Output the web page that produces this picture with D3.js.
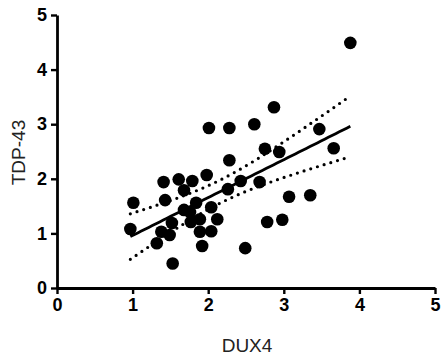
<!DOCTYPE html>
<html>
<head>
<meta charset="utf-8">
<script src="https://cdn.jsdelivr.net/npm/d3@7"></script>
<style>
  body { margin: 0; background: #fff; }
  svg { display: block; }
  text { font-family: "Liberation Sans", Arial, sans-serif; }
  .axis .domain { stroke: #000; stroke-width: 2.8px; }
  .axis .tick line { stroke: #000; stroke-width: 2.4px; }
  .axis .tick text { font-family: "Liberation Sans", Arial, sans-serif; font-size: 18px; font-weight: bold; fill: #000; }
</style>
</head>
<body>
<div id="chart"></div>
<script>
// DUX4 vs TDP-43 values
const dux4 = [3.88, 2.87, 2.01, 2.28, 2.61, 3.47, 2.75, 2.94, 3.66, 2.28,
              1.98, 1.61, 1.41, 1.79, 2.43, 2.68, 1.68, 2.26, 3.07, 3.35,
              1.01, 1.43, 1.84, 2.04, 1.68, 1.76, 2.78, 2.98, 1.52, 1.77,
              1.89, 2.12, 0.97, 1.38, 1.49, 1.89, 2.04, 1.32, 1.92, 2.49, 1.53];
const tdp43 = [4.49, 3.31, 2.93, 2.93, 3.00, 2.91, 2.55, 2.49, 2.56, 2.34,
               2.07, 1.99, 1.94, 1.96, 1.96, 1.94, 1.79, 1.81, 1.67, 1.70,
               1.56, 1.61, 1.56, 1.48, 1.43, 1.39, 1.21, 1.25, 1.19, 1.21,
               1.26, 1.26, 1.08, 1.03, 0.97, 1.03, 1.04, 0.82, 0.77, 0.73, 0.45];
const xTicks = [0, 1, 2, 3, 4, 5];
const yTicks = [0, 1, 2, 3, 4, 5];

const width = 442, height = 361;
const margin = {top: 15, right: 7, bottom: 73, left: 57};

const svg = d3.select('#chart').append('svg')
    .attr('width', width)
    .attr('height', height);

const x = d3.scaleLinear().domain([0, 5]).range([margin.left, width - margin.right]);
const y = d3.scaleLinear().domain([0, 5]).range([height - margin.bottom, margin.top]);

// linear fit + 95% confidence band
const n = dux4.length;
const mx = d3.mean(dux4), my = d3.mean(tdp43);
let sxx = 0, sxy = 0;
for (let i = 0; i < n; i++) {
    sxx += (dux4[i] - mx) ** 2;
    sxy += (dux4[i] - mx) * (tdp43[i] - my);
}
const slope = sxy / sxx, icpt = my - slope * mx;
let sse = 0;
for (let i = 0; i < n; i++) sse += (tdp43[i] - icpt - slope * dux4[i]) ** 2;
const s = Math.sqrt(sse / (n - 2));
const tcrit = 2.023;

const xs = d3.range(0, 61).map(i => d3.min(dux4) + (d3.max(dux4) - d3.min(dux4)) * i / 60);
const fit = xs.map(v => [v, icpt + slope * v]);
const half = v => tcrit * s * Math.sqrt(1 / n + (v - mx) ** 2 / sxx);
const upper = xs.map(v => [v, icpt + slope * v + half(v)]);
const lower = xs.map(v => [v, icpt + slope * v - half(v)]);

const line = d3.line().x(d => x(d[0])).y(d => y(d[1]));

svg.append('g').selectAll('circle')
    .data(d3.zip(dux4, tdp43))
    .enter()
    .append('circle')
    .attr('cx', d => x(d[0]))
    .attr('cy', d => y(d[1]))
    .attr('r', 6.3)
    .attr('fill', '#000');

svg.append('path').datum(fit)
    .attr('d', line)
    .attr('fill', 'none')
    .attr('stroke', '#000')
    .attr('stroke-width', 2.8);

[upper, lower].forEach(b => {
    svg.append('path').datum(b)
        .attr('d', line)
        .attr('fill', 'none')
        .attr('stroke', '#000')
        .attr('stroke-width', 3.2)
        .attr('stroke-linecap', 'round')
        .attr('stroke-dasharray', '0 7');
});

// axes
const xAxis = svg.append('g')
    .attr('class', 'axis')
    .attr('transform', 'translate(0,' + y(0) + ')')
    .call(d3.axisBottom(x).tickValues(xTicks).tickSize(6).tickSizeOuter(0).tickPadding(4).tickFormat(d3.format('d')));
const yAxis = svg.append('g')
    .attr('class', 'axis')
    .attr('transform', 'translate(' + x(0) + ',0)')
    .call(d3.axisLeft(y).tickValues(yTicks).tickSize(6).tickSizeOuter(0).tickPadding(4).tickFormat(d3.format('d')));

svg.append('text')
    .attr('x', (x(0) + x(5)) / 2 + 1)
    .attr('y', 352)
    .attr('text-anchor', 'middle')
    .attr('font-size', 19)
    .attr('fill', '#222')
    .text('DUX4');

svg.append('text')
    .attr('transform', 'translate(25,' + (y(2.5) + 1) + ') rotate(-90)')
    .attr('text-anchor', 'middle')
    .attr('font-size', 19)
    .attr('fill', '#222')
    .text('TDP-43');
</script>
</body>
</html>
